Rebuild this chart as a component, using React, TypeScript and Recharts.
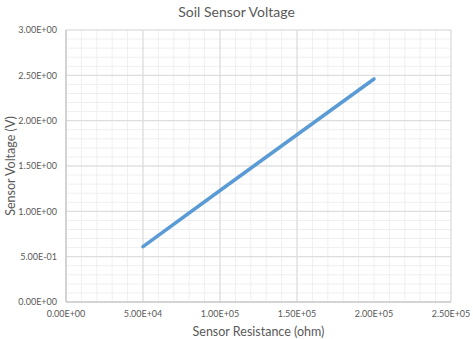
import { CartesianGrid, Label, Line, LineChart, XAxis, YAxis } from "recharts"

// sensor resistance (ohm) and measured voltage (V)
const resistance = [50000, 100000, 150000, 200000]
const voltage = [0.61, 1.23, 1.845, 2.46]

const xTicks = [0, 50000, 100000, 150000, 200000, 250000]
const yTicks = [0, 0.5, 1, 1.5, 2, 2.5, 3]
const xMinor = Array.from({ length: 26 }, (_, i) => i * 10000)
const yMinor = Array.from({ length: 31 }, (_, i) => Math.round(i * 10) / 100)

const data = resistance.map((r, i) => ({ r, v: voltage[i] }))

const font = "Lato, 'Open Sans', sans-serif"
const textColor = "#595959"

function sci(v: number) {
	const [m, e] = v.toExponential(2).split("e")
	const sign = e[0] === "-" ? "-" : "+"
	const digits = e.replace(/[+-]/, "").padStart(2, "0")
	return `${m}E${sign}${digits}`
}

// the axis scale is a plain function in some recharts versions, a wrapper object in others
function project(scale: any, values: number[]): number[] {
	if (!scale) return []
	if (typeof scale === "function") return values.map((v) => scale(v))
	if (typeof scale.map === "function") return values.map((v) => scale.map(v))
	if (typeof scale.apply === "function") return values.map((v) => scale.apply(v))
	return []
}

export default function App() {
	return (
		<div style={{ position: "absolute", left: 0, top: 0, width: 473, height: 339, background: "#fff", fontFamily: font }}>
			<div
				style={{
					position: "absolute",
					top: 3,
					left: 0,
					width: 473,
					textAlign: "center",
					fontSize: 14,
					color: textColor,
				}}
			>
				Soil Sensor Voltage
			</div>
			<LineChart width={473} height={339} data={data} margin={{ top: 30, right: 22, bottom: 0, left: 0 }}>
				{/* minor grid, placed through the axis scales */}
				<CartesianGrid
					stroke="#efefef"
					verticalCoordinatesGenerator={({ xAxis }: any) => project(xAxis?.scale, xMinor)}
					horizontalCoordinatesGenerator={({ yAxis }: any) => project(yAxis?.scale, yMinor)}
				/>
				<CartesianGrid stroke="#d9d9d9" />
				<XAxis
					dataKey="r"
					type="number"
					domain={[0, 250000]}
					ticks={xTicks}
					tickFormatter={sci}
					tickLine={false}
					tickSize={0}
					tickMargin={9}
					height={37}
					stroke="#bfbfbf"
					tick={{ fill: textColor, fontSize: 9, fontFamily: font }}
				>
					<Label
						value="Sensor Resistance (ohm)"
						position="insideBottom"
						offset={3}
						style={{ fill: textColor, fontSize: 12.5, fontFamily: font }}
					/>
				</XAxis>
				<YAxis
					type="number"
					domain={[0, 3]}
					ticks={yTicks}
					tickFormatter={sci}
					tickLine={false}
					tickSize={0}
					tickMargin={9}
					width={66}
					stroke="#bfbfbf"
					tick={{ fill: textColor, fontSize: 9, fontFamily: font }}
				>
					<Label
						value="Sensor Voltage (V)"
						angle={-90}
						position="insideLeft"
						offset={11}
						style={{ fill: textColor, fontSize: 12.5, fontFamily: font, textAnchor: "middle" }}
					/>
				</YAxis>
				<Line
					dataKey="v"
					stroke="#5b9bd5"
					strokeWidth={3.5}
					strokeLinecap="round"
					dot={false}
					type="linear"
					isAnimationActive={false}
				/>
			</LineChart>
		</div>
	)
}
